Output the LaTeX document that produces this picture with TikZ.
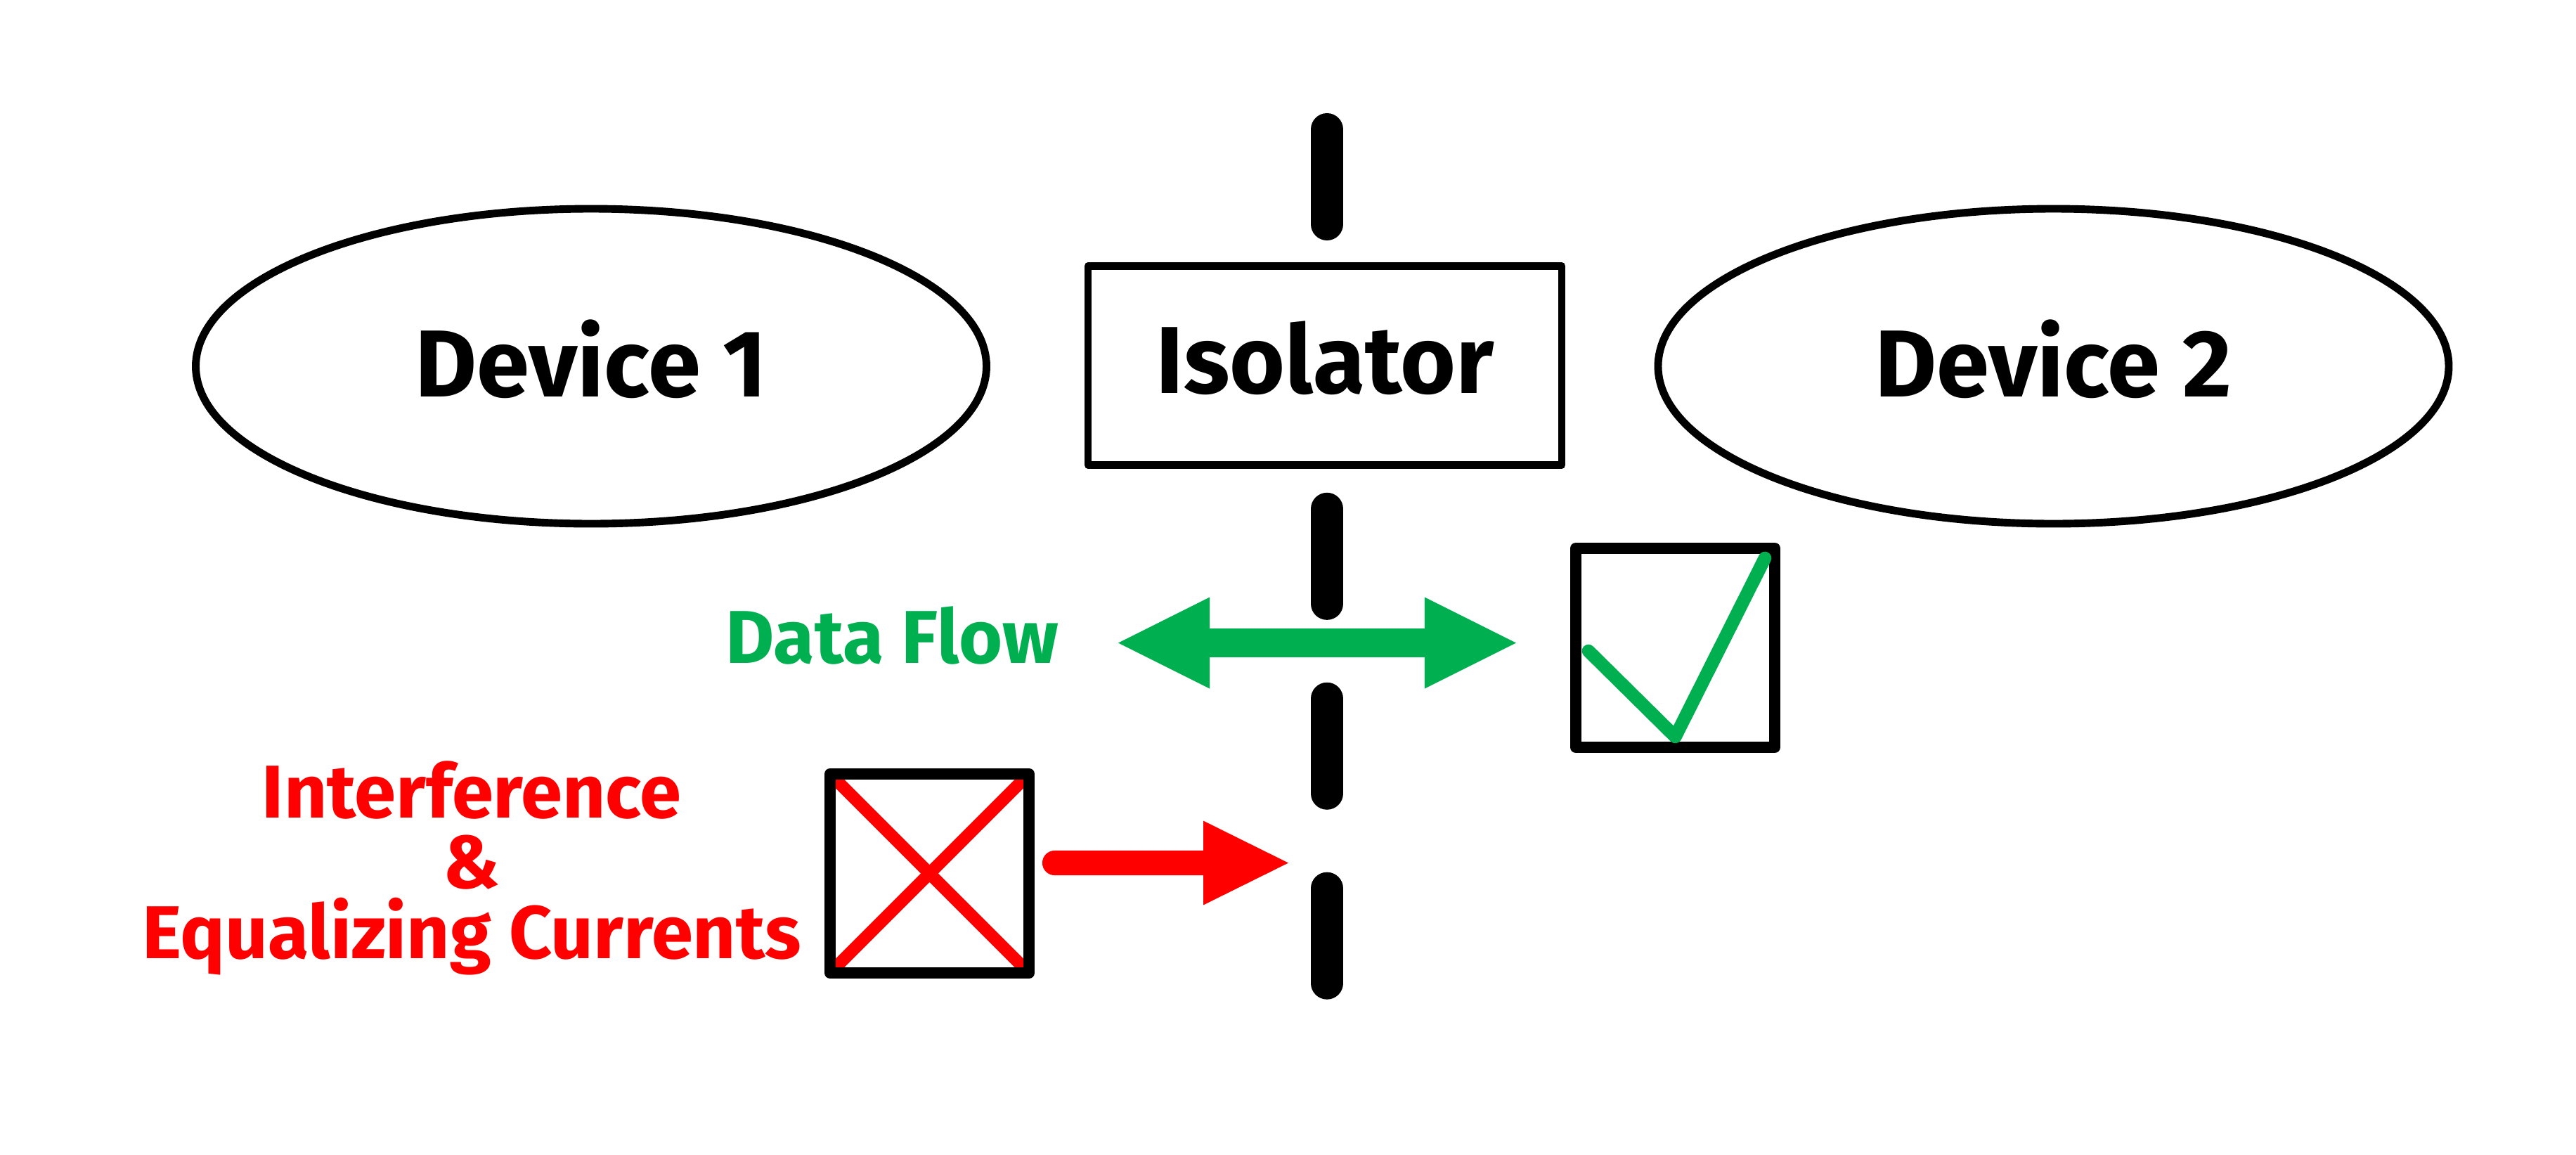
\documentclass[tikz,border=0pt]{standalone}
\usepackage{fontspec}
\setmainfont{Fira Sans}
\usepackage{xcolor}
\usetikzlibrary{arrows.meta,shapes.geometric,positioning}
\definecolor{flowgreen}{HTML}{00B050}
\definecolor{noisered}{HTML}{FF0000}

\begin{document}
\begin{tikzpicture}[
  device/.style={draw, ellipse, line width=3.1pt, minimum width=11.25cm, minimum height=4.48cm, inner sep=0pt, text depth=6.5pt, font=\fontsize{38.5}{44}\selectfont\bfseries},
  iso/.style={draw, rectangle, fill=white, line width=3.1pt, line join=round, minimum width=6.74cm, minimum height=2.83cm, inner sep=0pt, text depth=6.5pt, font=\fontsize{38.5}{44}\selectfont\bfseries},
  statusbox/.style={draw, rectangle, line width=4.55pt, line join=round, minimum size=2.83cm, inner sep=0pt},
  barrier/.style={line width=13.1pt, line cap=round, dash pattern=on 38.4pt off 38.4pt},
  flowarrow/.style={flowgreen, line width=11.7pt, {Triangle[length=37pt,width=37pt,line width=0pt]}-{Triangle[length=37pt,width=37pt,line width=0pt]}},
  noisearrow/.style={noisered, line width=10pt, line cap=round, -{Triangle[length=34.4pt,width=34.1pt,line width=0pt]}},
  lbl/.style={font=\fontsize{30.3}{28.45}\selectfont\bfseries, inner sep=0pt, align=center}
]
\useasboundingbox (0,0) rectangle (36.65,-16.42);

% isolation barrier, broken by the isolator
\coordinate (bartop) at (18.88,-1.84);
\coordinate (barbot) at (18.88,-13.99);
\draw[barrier] (bartop) -- (barbot);

\node[device] (dev1) at (8.41,-5.21) {Device 1};
\node[device] (dev2) at (29.215,-5.21) {Device 2};
\node[iso] (iso) at (18.85,-5.20) {Isolator};

% data passes
\coordinate (flowL) at (15.91,-9.145);
\coordinate (flowR) at (21.57,-9.145);
\draw[flowarrow] (flowL) -- (flowR);
\node[lbl, text=flowgreen, anchor=base] (flowlbl) at (12.695,-9.43) {Data Flow};

\node[statusbox] (okbox) at (23.835,-9.215) {};
\draw[flowgreen, line width=5.3pt, line cap=round, line join=round]
  ([shift={(-1.235,-0.045)}]okbox.center) -- ([shift={(0,-1.265)}]okbox.center)
  -- ([shift={(1.275,1.275)}]okbox.center);

% interference is blocked
\node[statusbox, path picture={
    \draw[noisered, line width=5pt]
      (path picture bounding box.north west) -- (path picture bounding box.south east)
      (path picture bounding box.south west) -- (path picture bounding box.north east);
  }] (failbox) at (13.225,-12.425) {};
\coordinate (hit) at (18.33,-12.275);
\draw[noisearrow] ([xshift=0.285cm,yshift=0.15cm]failbox.east) -- (hit);
\node[lbl, text=noisered] (noiselbl) at (6.71,-12.345) {Interference\\\&\\Equalizing Currents};
\end{tikzpicture}
\end{document}
